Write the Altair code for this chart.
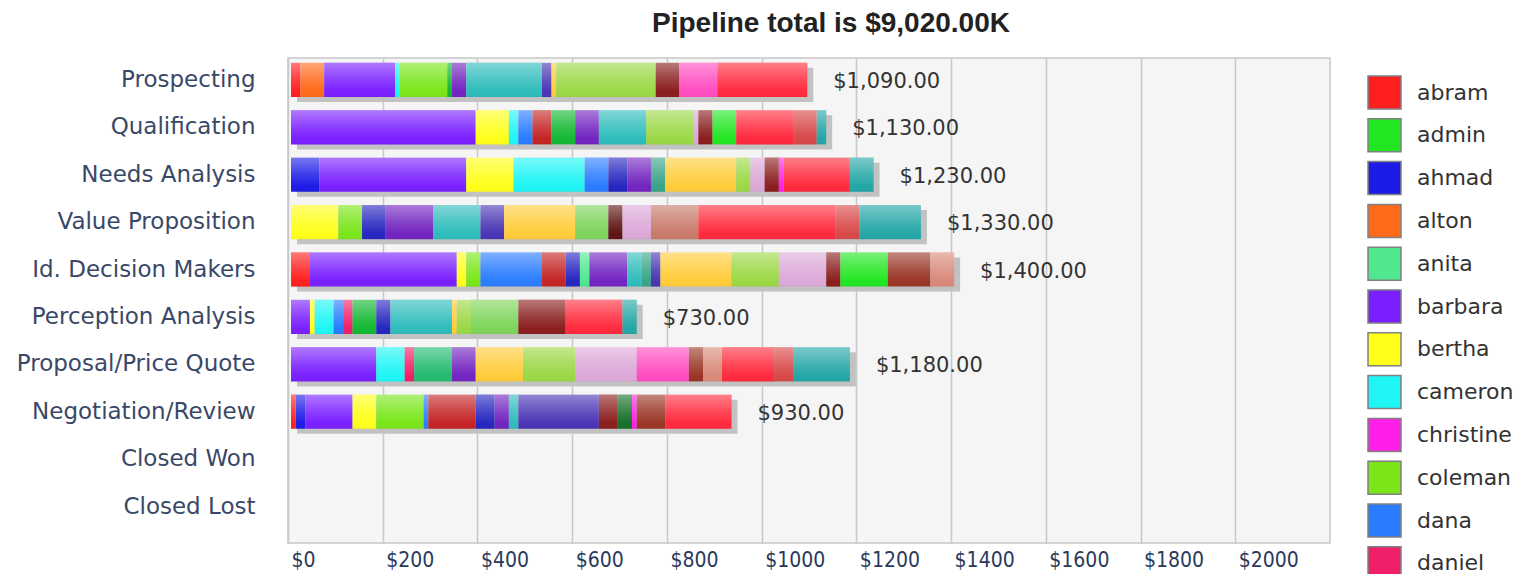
import altair as alt
import pandas as pd

stages = ["Prospecting", "Qualification", "Needs Analysis", "Value Proposition",
          "Id. Decision Makers", "Perception Analysis", "Proposal/Price Quote",
          "Negotiation/Review", "Closed Won", "Closed Lost"]

owners = ["abram", "admin", "ahmad", "alton", "anita", "barbara", "bertha", "cameron",
          "christine", "coleman", "dana", "daniel", "david", "dennis", "diane", "donna",
          "edward", "elena", "frank", "gloria", "harold", "irene", "james", "karen",
          "larry", "maria", "nancy", "nora", "oscar", "paul", "quinn", "robert",
          "tina", "walter"]
owner_colors = ["#ff1f1f", "#22e622", "#1c1ce6", "#ff6a1a", "#4fe88f", "#7a1fff", "#ffff1a", "#1ff5f5",
                "#ff1fe8", "#7ae61a", "#2a7cff", "#f01f6a", "#2fbcbc", "#8a1e1e", "#dca8d8", "#c97a6a",
                "#ffcc3a", "#9bd845", "#4a35b5", "#7224c0", "#c42424", "#12b832", "#ff4cc0", "#d98a7a",
                "#9a3626", "#ff2a3c", "#d84848", "#22bb70", "#3aa488", "#7ed45a", "#17702a", "#5e1414",
                "#2626c0", "#24a6a6"]

prospecting_owners = ["abram", "alton", "barbara", "cameron", "coleman", "irene", "gloria", "david",
                      "frank", "edward", "elena", "dennis", "james", "maria"]
prospecting_values = [20, 50, 150, 10, 100, 10, 30, 160, 20, 10, 210, 50, 80, 190]

qualification_owners = ["barbara", "bertha", "cameron", "dana", "harold", "irene", "gloria", "david",
                        "elena", "diane", "dennis", "admin", "maria", "nancy", "walter"]
qualification_values = [390, 70, 20, 30, 40, 50, 50, 100, 100, 10, 30, 50, 120, 50, 20]

needs_owners = ["ahmad", "barbara", "bertha", "cameron", "dana", "tina", "gloria", "oscar",
                "edward", "elena", "diane", "dennis", "christine", "maria", "walter"]
needs_values = [60, 310, 100, 150, 50, 40, 50, 30, 150, 30, 30, 30, 10, 140, 50]

value_owners = ["bertha", "coleman", "tina", "gloria", "david", "frank", "edward", "paul",
                "robert", "diane", "donna", "maria", "nancy", "walter"]
value_values = [100, 50, 50, 100, 100, 50, 150, 70, 30, 60, 100, 290, 50, 130]

idm_owners = ["abram", "barbara", "bertha", "coleman", "dana", "harold", "tina", "anita", "gloria",
              "david", "oscar", "frank", "edward", "elena", "diane", "dennis", "admin", "larry", "karen"]
idm_values = [40, 310, 20, 30, 130, 50, 30, 20, 80, 30, 20, 20, 150, 100, 100, 30, 100, 90, 50]

perception_owners = ["barbara", "bertha", "cameron", "dana", "daniel", "irene", "tina", "david",
                     "edward", "elena", "paul", "dennis", "maria", "walter"]
perception_values = [40, 10, 40, 20, 20, 50, 30, 130, 10, 30, 100, 100, 120, 30]

proposal_owners = ["barbara", "cameron", "daniel", "nora", "gloria", "edward", "elena", "diane",
                   "james", "larry", "karen", "maria", "nancy", "walter"]
proposal_values = [180, 60, 20, 80, 50, 100, 110, 130, 110, 30, 40, 110, 40, 120]

negotiation_owners = ["abram", "ahmad", "barbara", "bertha", "coleman", "dana", "harold", "tina",
                      "gloria", "david", "frank", "dennis", "quinn", "christine", "larry", "maria"]
negotiation_values = [10, 20, 100, 50, 100, 10, 100, 40, 30, 20, 170, 40, 30, 10, 60, 140]

legend_shown = owners[:12]

segments = [
    ("Prospecting", prospecting_owners, prospecting_values),
    ("Qualification", qualification_owners, qualification_values),
    ("Needs Analysis", needs_owners, needs_values),
    ("Value Proposition", value_owners, value_values),
    ("Id. Decision Makers", idm_owners, idm_values),
    ("Perception Analysis", perception_owners, perception_values),
    ("Proposal/Price Quote", proposal_owners, proposal_values),
    ("Negotiation/Review", negotiation_owners, negotiation_values),
]

rows = []
for stage, ows, vals in segments:
    for i, (o, v) in enumerate(zip(ows, vals)):
        rows.append({"stage": stage, "owner": o, "value": v, "idx": i})
df = pd.DataFrame(rows)

grand_total = float(df["value"].sum())
title_text = f"Pipeline total is ${grand_total:,.2f}K"

x_scale = alt.Scale(domain=[0, 2200], nice=False, zero=True)
x_axis = alt.Axis(values=list(range(0, 2001, 200)), labelExpr="'$' + datum.value",
                  labelAlign="left", labelBaseline="top", labelOffset=3,
                  labelFont="Liberation Sans Narrow, DejaVu Sans Condensed, Liberation Sans",
                  labelFontSize=21, labelColor="#2a3a5c", labelPadding=6,
                  ticks=False, domain=False, grid=True, gridColor="#c8c8c8", gridWidth=1.5,
                  labelFlush=False, labelOverlap=False)
y_scale = alt.Scale(domain=stages, paddingInner=0.28, paddingOuter=0.256, align=0.2)
y_axis = alt.Axis(ticks=False, domain=False, labelFont="DejaVu Sans", labelFontSize=23,
                  labelColor="#3a4868", labelPadding=33, labelLimit=400, grid=False)

y_enc = alt.Y("stage:N", sort=stages, scale=y_scale, axis=y_axis, title=None)

base = alt.Chart()
totals = base.transform_aggregate(total="sum(value)", groupby=["stage"])

shadow = totals.mark_bar(color="#c2c2c2", xOffset=9, yOffset=5).encode(
    x=alt.X("total:Q", scale=x_scale, axis=x_axis, title=None),
    y=y_enc,
)

bars = base.mark_bar(xOffset=3).encode(
    x=alt.X("value:Q", stack="zero", scale=x_scale, axis=x_axis, title=None),
    y=y_enc,
    color=alt.Color("owner:N", scale=alt.Scale(domain=owners, range=owner_colors), title=None,
                    legend=alt.Legend(orient="none", legendX=1079, legendY=17, padding=0,
                                      values=legend_shown, symbolType="square", symbolSize=1089,
                                      symbolStrokeColor="#808080", symbolStrokeWidth=1.5,
                                      labelFont="DejaVu Sans", labelFontSize=22, labelColor="#333333",
                                      labelOffset=15, rowPadding=3.8, labelLimit=200, columns=1)),
    order=alt.Order("idx:Q", sort="ascending"),
)

grad = alt.LinearGradient(
    gradient="linear",
    stops=[alt.GradientStop(color="rgba(255,255,255,0.40)", offset=0),
           alt.GradientStop(color="rgba(255,255,255,0.14)", offset=0.5),
           alt.GradientStop(color="rgba(255,255,255,0)", offset=0.85),
           alt.GradientStop(color="rgba(0,0,0,0.04)", offset=1)],
    x1=0, x2=0, y1=0, y2=1)

overlay = totals.mark_bar(fill=grad, xOffset=3).encode(
    x=alt.X("total:Q", scale=x_scale, axis=x_axis, title=None),
    y=y_enc,
)

labels = totals.mark_text(align="left", baseline="middle", dx=29, dy=2, font="DejaVu Sans",
                          fontSize=21, color="#333333").encode(
    x=alt.X("total:Q", scale=x_scale, axis=x_axis, title=None),
    y=y_enc,
    text=alt.Text("total:Q", format="$,.2f"),
)

chart = alt.layer(shadow, bars, overlay, labels, data=df).properties(
    width=1042, height=485,
    title=alt.TitleParams(text=title_text, font="Liberation Sans", fontSize=28, fontWeight="bold",
                          color="#222222", anchor="middle", offset=20, dx=22),
    padding={"left": 288, "top": 58, "right": 190, "bottom": 31},
    autosize="none",
    background="white",
).configure_view(fill="#f5f5f5", stroke="#c8c8c8", strokeWidth=1.5)

chart.save("out.html", embed_options={"renderer": "svg", "actions": False})
